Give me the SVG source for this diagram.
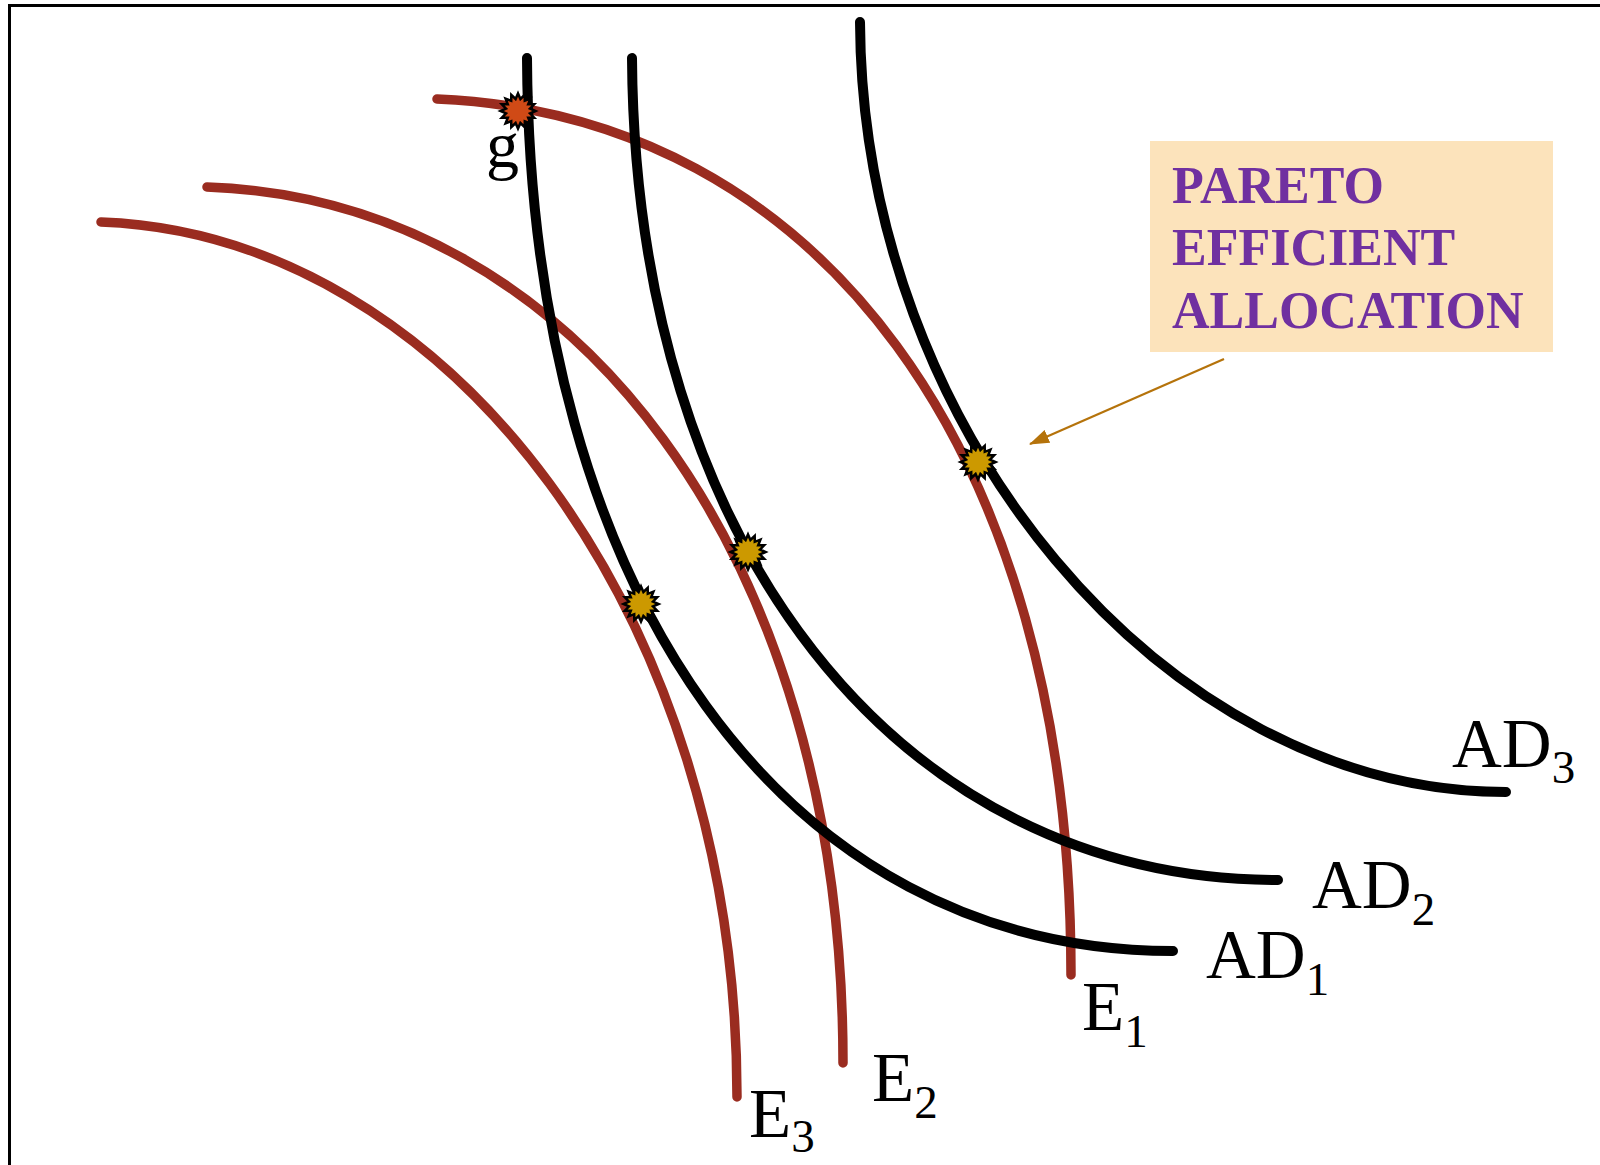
<svg xmlns="http://www.w3.org/2000/svg" width="1600" height="1165" viewBox="0 0 1600 1165">
<style>
.ad{fill:none;stroke:#000;stroke-width:10;stroke-linecap:round}
.e{fill:none;stroke:#9A2C20;stroke-width:9.5;stroke-linecap:round}
.lbl{font-family:"Liberation Serif","Times New Roman",serif;font-size:69px;fill:#000}
.sub{font-size:47px}
.box{font-family:"Liberation Serif","Times New Roman",serif;font-size:52px;font-weight:bold;fill:#7030A0}
.star{stroke:#000;stroke-width:2.5;stroke-linejoin:miter}
</style>
<defs>
<polygon id="burst" points="17.5,0 12,2.4 16.2,6.7 10.2,6.8 12.4,12.4 6.8,10.2 6.7,16.2 2.4,12 0,17.5 -2.4,12 -6.7,16.2 -6.8,10.2 -12.4,12.4 -10.2,6.8 -16.2,6.7 -12,2.4 -17.5,0 -12,-2.4 -16.2,-6.7 -10.2,-6.8 -12.4,-12.4 -6.8,-10.2 -6.7,-16.2 -2.4,-12 0,-17.5 2.4,-12 6.7,-16.2 6.8,-10.2 12.4,-12.4 10.2,-6.8 16.2,-6.7 12,-2.4"/>
<marker id="arr" markerWidth="20" markerHeight="14" refX="19" refY="7" orient="auto" markerUnits="userSpaceOnUse" viewBox="0 0 20 14">
<path d="M0,0 L20,7 L0,14 Z" fill="#B5730B"/>
</marker>
</defs>
<rect width="1600" height="1165" fill="#fff"/>
<g id="frame" fill="none" stroke="#000" stroke-width="3">
<path d="M9.5,1165 V5.5 H1600"/>
</g>
<g id="connectors">
<path id="E3" class="e" d="M101,222 C450,235 737,616 737,1097"/>
<path id="E2" class="e" d="M207,187 C576,200 843,555 843,1063"/>
<path id="E1" class="e" d="M437,99 C817,115 1071,449 1071,975"/>
<path id="AD1" class="ad" d="M527,58 C530,594 785,951 1173,951"/>
<path id="AD2" class="ad" d="M632,58 C635,543 897,880 1278,880"/>
<path id="AD3" class="ad" d="M860,22 C862,430 1164,792 1506,792"/>
<line x1="1224" y1="359" x2="1030" y2="444" stroke="#B5730B" stroke-width="2.2" marker-end="url(#arr)"/>
</g>
<g id="points">
<use href="#burst" x="518" y="111" class="star" fill="#D04A16"/>
<use href="#burst" x="641" y="604" class="star" fill="#CC9900"/>
<use href="#burst" x="748" y="552" class="star" fill="#CC9900"/>
<use href="#burst" x="978" y="462" class="star" fill="#CC9900"/>
</g>
<g id="labels">
<text class="lbl" x="486" y="167" style="font-size:66px">g</text>
<text class="lbl" x="1452" y="767">AD<tspan class="sub" dy="16">3</tspan></text>
<text class="lbl" x="1312" y="908">AD<tspan class="sub" dy="17">2</tspan></text>
<text class="lbl" x="1206" y="978">AD<tspan class="sub" dy="17">1</tspan></text>
<text class="lbl" x="1082" y="1030">E<tspan class="sub" dy="17">1</tspan></text>
<text class="lbl" x="872" y="1101">E<tspan class="sub" dy="17">2</tspan></text>
<text class="lbl" x="749" y="1137">E<tspan class="sub" dy="15">3</tspan></text>
</g>
<g id="pareto-note">
<rect x="1150" y="141" width="403" height="211" fill="#FCE3BB"/>
<text class="box" x="1172" y="203">PARETO</text>
<text class="box" x="1172" y="265">EFFICIENT</text>
<text class="box" x="1172" y="328">ALLOCATION</text>
</g>
</svg>
